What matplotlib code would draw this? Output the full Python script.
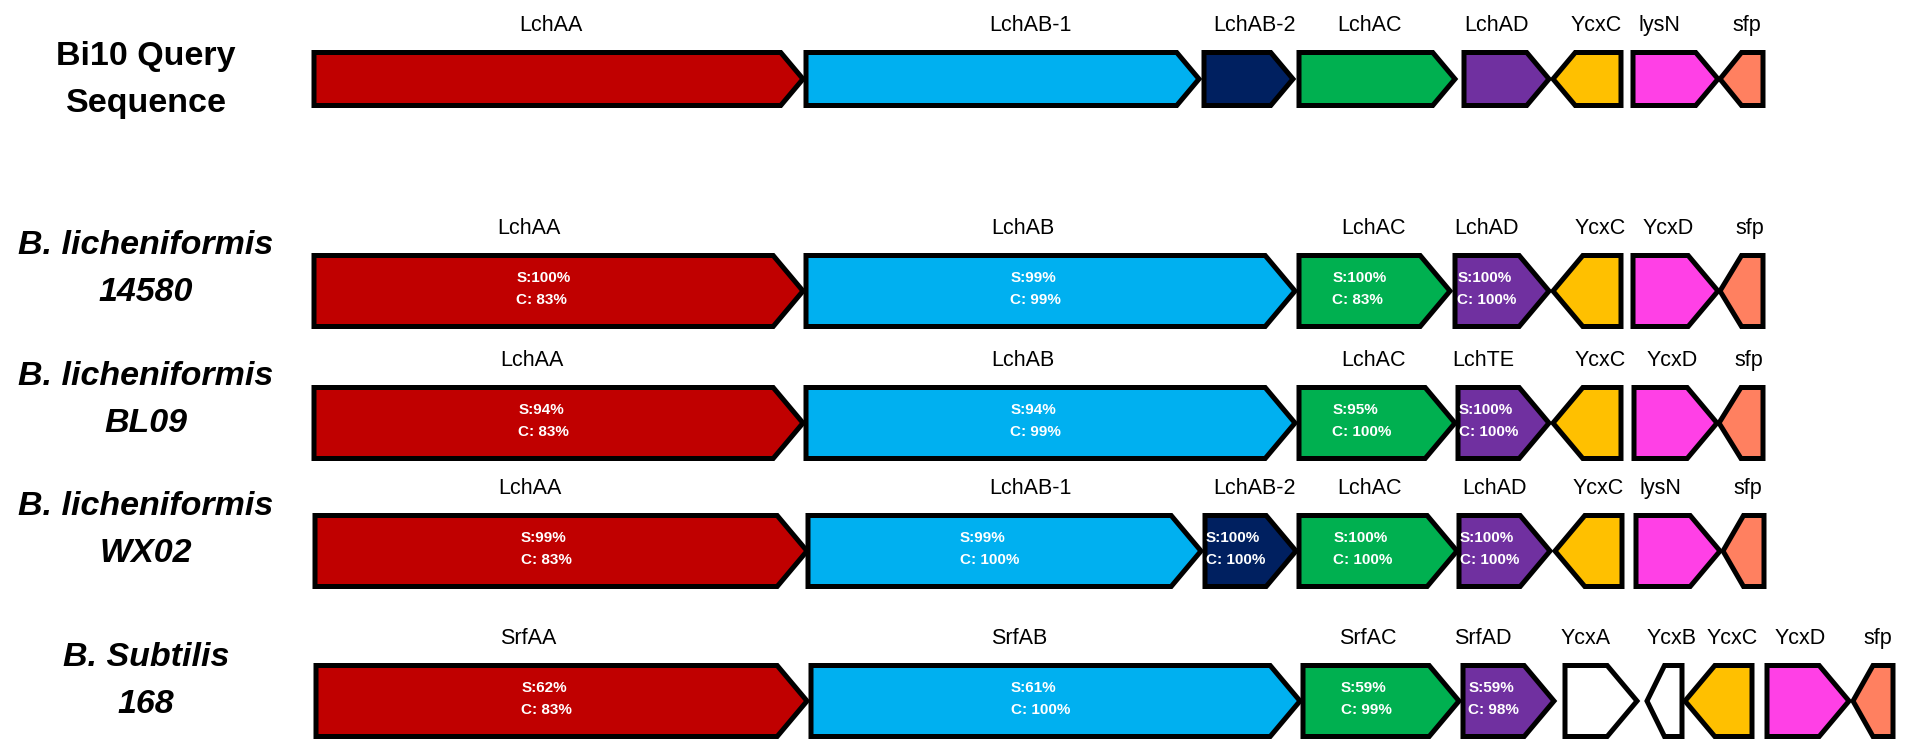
import matplotlib.pyplot as plt
from matplotlib.patches import Polygon

plt.rcParams['font.family'] = ['Liberation Sans', 'DejaVu Sans']

# colours of the cluster genes
RED = '#C00000'
BLUE = '#00B0F0'
NAVY = '#002060'
GREEN = '#00B050'
PURPLE = '#7030A0'
YELLOW = '#FFC000'
PINK = '#FF40E6'
SALMON = '#FF8060'
WHITE = '#FFFFFF'

species = ['Bi10 Query\nSequence', 'B. licheniformis\n14580', 'B. licheniformis\nBL09',
           'B. licheniformis\nWX02', 'B. Subtilis\n168']
species_italic = [False, True, True, True, True]

# row 1 - Bi10 query
names1 = ['LchAA', 'LchAB-1', 'LchAB-2', 'LchAC', 'LchAD', 'YcxC', 'lysN', 'sfp']
start1 = [314, 806, 1204, 1299, 1464, 1553, 1633, 1720]
end1 = [803, 1199, 1293, 1455, 1549, 1621, 1718, 1763]
strand1 = [1, 1, 1, 1, 1, -1, 1, -1]
colors1 = [RED, BLUE, NAVY, GREEN, PURPLE, YELLOW, PINK, SALMON]
ident1 = ['', '', '', '', '', '', '', '']
nudge1 = [-8, 28, 6, -8, -10, 9, -16, 5]

# row 2 - B. licheniformis 14580
names2 = ['LchAA', 'LchAB', 'LchAC', 'LchAD', 'YcxC', 'YcxD', 'sfp']
start2 = [314, 806, 1299, 1455, 1553, 1633, 1720]
end2 = [803, 1295, 1450, 1549, 1621, 1718, 1763]
strand2 = [1, 1, 1, 1, -1, 1, -1]
colors2 = [RED, BLUE, GREEN, PURPLE, YELLOW, PINK, SALMON]
ident2 = ['S:100%\nC: 83%', 'S:99%\nC: 99%', 'S:100%\nC: 83%', 'S:100%\nC: 100%', '', '', '']
nudge2 = [-30, -28, -1, -16, 13, -7, 8]

# row 3 - B. licheniformis BL09
names3 = ['LchAA', 'LchAB', 'LchAC', 'LchTE', 'YcxC', 'YcxD', 'sfp']
start3 = [314, 806, 1299, 1458, 1553, 1634, 1719]
end3 = [803, 1295, 1455, 1549, 1621, 1717, 1763]
strand3 = [1, 1, 1, 1, -1, 1, -1]
colors3 = [RED, BLUE, GREEN, PURPLE, YELLOW, PINK, SALMON]
ident3 = ['S:94%\nC: 83%', 'S:94%\nC: 99%', 'S:95%\nC: 100%', 'S:100%\nC: 100%', '', '', '']
nudge3 = [-27, -28, -4, -20, 13, -3, 8]

# row 4 - B. licheniformis WX02
names4 = ['LchAA', 'LchAB-1', 'LchAB-2', 'LchAC', 'LchAD', 'YcxC', 'lysN', 'sfp']
start4 = [315, 808, 1205, 1299, 1459, 1555, 1636, 1723]
end4 = [807, 1201, 1296, 1457, 1550, 1622, 1720, 1764]
strand4 = [1, 1, 1, 1, 1, -1, 1, -1]
colors4 = [RED, BLUE, NAVY, GREEN, PURPLE, YELLOW, PINK, SALMON]
ident4 = ['S:99%\nC: 83%', 'S:99%\nC: 100%', 'S:100%\nC: 100%', 'S:100%\nC: 100%',
          'S:100%\nC: 100%', '', '', '']
nudge4 = [-31, 26, 4, -9, -10, 10, -18, 4]

# row 5 - B. subtilis 168
names5 = ['SrfAA', 'SrfAB', 'SrfAC', 'SrfAD', 'YcxA', 'YcxB', 'YcxC', 'YcxD', 'sfp']
start5 = [316, 811, 1303, 1463, 1565, 1647, 1685, 1767, 1853]
end5 = [807, 1300, 1459, 1554, 1637, 1682, 1752, 1849, 1893]
strand5 = [1, 1, 1, 1, 1, -1, -1, 1, -1]
colors5 = [RED, BLUE, GREEN, PURPLE, WHITE, WHITE, YELLOW, PINK, SALMON]
ident5 = ['S:62%\nC: 83%', 'S:61%\nC: 100%', 'S:59%\nC: 99%', 'S:59%\nC: 98%',
          '', '', '', '', '']
nudge5 = [-33, -36, -13, -26, -15, 7, 14, -8, 5]

rows = [
    (names1, start1, end1, strand1, colors1, ident1, nudge1),
    (names2, start2, end2, strand2, colors2, ident2, nudge2),
    (names3, start3, end3, strand3, colors3, ident3, nudge3),
    (names4, start4, end4, strand4, colors4, ident4, nudge4),
    (names5, start5, end5, strand5, colors5, ident5, nudge5),
]
row_y = [79, 291, 423, 551, 701]
row_h = [53, 71, 71, 71, 71]
label_dy = [1, -22, -23, -21, -20]

fig = plt.figure(figsize=(19.1, 7.39), dpi=100)
ax = fig.add_axes([0, 0, 1, 1])
ax.set_xlim(0, 1910)
ax.set_ylim(739, 0)
ax.axis('off')


def gene_arrow(x0, x1, yc, h, strand, color):
    head = min(0.42 * h, 0.5 * (x1 - x0))
    top, bot = yc - h / 2, yc + h / 2
    if strand > 0:
        pts = [(x0, top), (x1 - head, top), (x1, yc), (x1 - head, bot), (x0, bot)]
    else:
        pts = [(x1, top), (x0 + head, top), (x0, yc), (x0 + head, bot), (x1, bot)]
    return Polygon(pts, closed=True, facecolor=color, edgecolor='black',
                   linewidth=3.6, joinstyle='miter')


for i, (names, starts, ends, strands, cols, ident, nudge) in enumerate(rows):
    yc, h = row_y[i], row_h[i]
    style = 'italic' if species_italic[i] else 'normal'
    ax.text(146, yc + label_dy[i], species[i], ha='center', va='center',
            fontsize=24.5, fontweight='bold', fontstyle=style, linespacing=1.65)
    for n, x0, x1, s, c, t, dx in zip(names, starts, ends, strands, cols, ident, nudge):
        ax.add_patch(gene_arrow(x0, x1, yc, h, s, c))
        ax.text((x0 + x1) / 2 + dx, yc - h / 2 - 27, n, ha='center', va='center',
                fontsize=15.5)
        if t:
            head = min(0.42 * h, 0.5 * (x1 - x0))
            ax.text((x0 + x1 - head) / 2, yc - 2, t, ha='center', va='center',
                    multialignment='left', fontsize=11, fontweight='bold',
                    color='white', linespacing=1.7)

fig.savefig('out.png', dpi=100)
